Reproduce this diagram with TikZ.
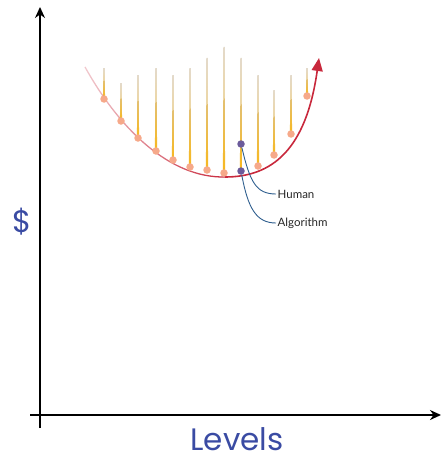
\documentclass[tikz,border=0pt]{standalone}
\usepackage{fontspec}
\setmainfont{Lato}
\newfontfamily\geofont{Poppins}
\usepackage{tikz}
\usetikzlibrary{arrows.meta,positioning,calc,backgrounds,fadings}
\usepackage{xcolor}
\definecolor{curvered}{HTML}{C8283C}
\definecolor{peach}{HTML}{F6A98A}
\definecolor{plum}{HTML}{6B5B9B}
\definecolor{steel}{HTML}{2E5E8E}
\definecolor{titleblue}{HTML}{3A4BA3}
\definecolor{stalkorange}{HTML}{F6A623}
\tikzfading[name=fadeleft, left color=transparent!75, right color=transparent!0]

\begin{document}
\begin{tikzpicture}[
      x=1pt, y=-1pt,
      axis/.style={-{Stealth[length=11pt, width=10pt]}, line width=1.8pt},
      dot/.style={circle, fill=peach, inner sep=0pt, minimum size=7.5pt},
      pdot/.style={circle, fill=plum, inner sep=0pt, minimum size=7.5pt},
      link/.style={draw=steel, line width=0.9pt},
      lbl/.style={font=\fontsize{11.5}{13}\selectfont, text=black!85, anchor=west, inner sep=1.5pt},
      axlabel/.style={font=\geofont\fontsize{31}{34}\selectfont, text=titleblue},
      stalk/.style={top color=stalkorange!35!gray!50, middle color=stalkorange, bottom color=stalkorange!80!yellow, draw=none},
    ]
    \useasboundingbox (0,0) rectangle (441,460);

    % ---- Axes ----
    \coordinate (yb) at (40,428);
    \coordinate (yt) at (40,7);
    \coordinate (xl) at (30,415);
    \coordinate (xr) at (441,415);
    \draw[axis] (yb) -- (yt);
    \draw[axis] (xl) -- (xr);

    \node[axlabel] (dollar) at (22,222) {\$};
    \node[axlabel] (levels) at (237,439) {Levels};

    % ---- Cost curve ----
    \coordinate (c0) at (85,67);
    \coordinate (cm) at (225,177);
    \coordinate (c1) at (319,58);
    \draw[curvered, line width=1.3pt, path fading=fadeleft]
      (c0) .. controls (120,130) and (170,178) .. (cm);
    \draw[curvered, line width=1.6pt, -{Triangle[length=13pt, width=11pt]}]
      (cm) .. controls (272,177) and (306,150) .. (c1);

    % ---- Samples ----
    \node[dot] (p1) at (104,99) {};
    \node[dot] (p2) at (121,121) {};
    \node[dot] (p3) at (138,138) {};
    \node[dot] (p4) at (156,151) {};
    \node[dot] (p5) at (173,160) {};
    \node[dot] (p6) at (190,167) {};
    \node[dot] (p7) at (207,170) {};
    \node[dot] (p8) at (224,173) {};
    \node[pdot] (hu) at (241,144) {};
    \node[pdot] (al) at (241,171) {};
    \node[dot] (p10) at (258,166) {};
    \node[dot] (p11) at (274,155) {};
    \node[dot] (p12) at (291,134) {};
    \node[dot] (p13) at (307,96) {};

    % stalk tops
    \coordinate (t1) at (104,68);
    \coordinate (t2) at (121,83);
    \coordinate (t3) at (138,75);
    \coordinate (t4) at (156,68);
    \coordinate (t5) at (173,75);
    \coordinate (t6) at (190,68);
    \coordinate (t7) at (207,58);
    \coordinate (t8) at (224,47);
    \coordinate (t9) at (241,58);
    \coordinate (t10) at (258,75);
    \coordinate (t11) at (274,90);
    \coordinate (t12) at (291,75);
    \coordinate (t13) at (307,68);

    \begin{scope}[on background layer]
      \shade[stalk] ($(p1)+(-1.1,0)$) -- ($(t1)+(-0.5,0)$) -- ($(t1)+(0.5,0)$) -- ($(p1)+(1.1,0)$) -- cycle;
      \shade[stalk] ($(p2)+(-1.1,0)$) -- ($(t2)+(-0.5,0)$) -- ($(t2)+(0.5,0)$) -- ($(p2)+(1.1,0)$) -- cycle;
      \shade[stalk] ($(p3)+(-1.1,0)$) -- ($(t3)+(-0.5,0)$) -- ($(t3)+(0.5,0)$) -- ($(p3)+(1.1,0)$) -- cycle;
      \shade[stalk] ($(p4)+(-1.1,0)$) -- ($(t4)+(-0.5,0)$) -- ($(t4)+(0.5,0)$) -- ($(p4)+(1.1,0)$) -- cycle;
      \shade[stalk] ($(p5)+(-1.1,0)$) -- ($(t5)+(-0.5,0)$) -- ($(t5)+(0.5,0)$) -- ($(p5)+(1.1,0)$) -- cycle;
      \shade[stalk] ($(p6)+(-1.1,0)$) -- ($(t6)+(-0.5,0)$) -- ($(t6)+(0.5,0)$) -- ($(p6)+(1.1,0)$) -- cycle;
      \shade[stalk] ($(p7)+(-1.1,0)$) -- ($(t7)+(-0.5,0)$) -- ($(t7)+(0.5,0)$) -- ($(p7)+(1.1,0)$) -- cycle;
      \shade[stalk] ($(p8)+(-1.1,0)$) -- ($(t8)+(-0.5,0)$) -- ($(t8)+(0.5,0)$) -- ($(p8)+(1.1,0)$) -- cycle;
      \shade[stalk] ($(al)+(-1.1,0)$) -- ($(t9)+(-0.5,0)$) -- ($(t9)+(0.5,0)$) -- ($(al)+(1.1,0)$) -- cycle;
      \shade[stalk] ($(p10)+(-1.1,0)$) -- ($(t10)+(-0.5,0)$) -- ($(t10)+(0.5,0)$) -- ($(p10)+(1.1,0)$) -- cycle;
      \shade[stalk] ($(p11)+(-1.1,0)$) -- ($(t11)+(-0.5,0)$) -- ($(t11)+(0.5,0)$) -- ($(p11)+(1.1,0)$) -- cycle;
      \shade[stalk] ($(p12)+(-1.1,0)$) -- ($(t12)+(-0.5,0)$) -- ($(t12)+(0.5,0)$) -- ($(p12)+(1.1,0)$) -- cycle;
      \shade[stalk] ($(p13)+(-1.1,0)$) -- ($(t13)+(-0.5,0)$) -- ($(t13)+(0.5,0)$) -- ($(p13)+(1.1,0)$) -- cycle;
    \end{scope}

    % ---- Labels ----
    \node[lbl] (human) at (276,194) {Human};
    \node[lbl] (algo) at (276,223) {Algorithm};

    \draw[link] (hu) .. controls (250,182) and (256,194) .. (human.west);
    \draw[link] (al) .. controls (248,208) and (256,223) .. (algo.west);
  \end{tikzpicture}
\end{document}
